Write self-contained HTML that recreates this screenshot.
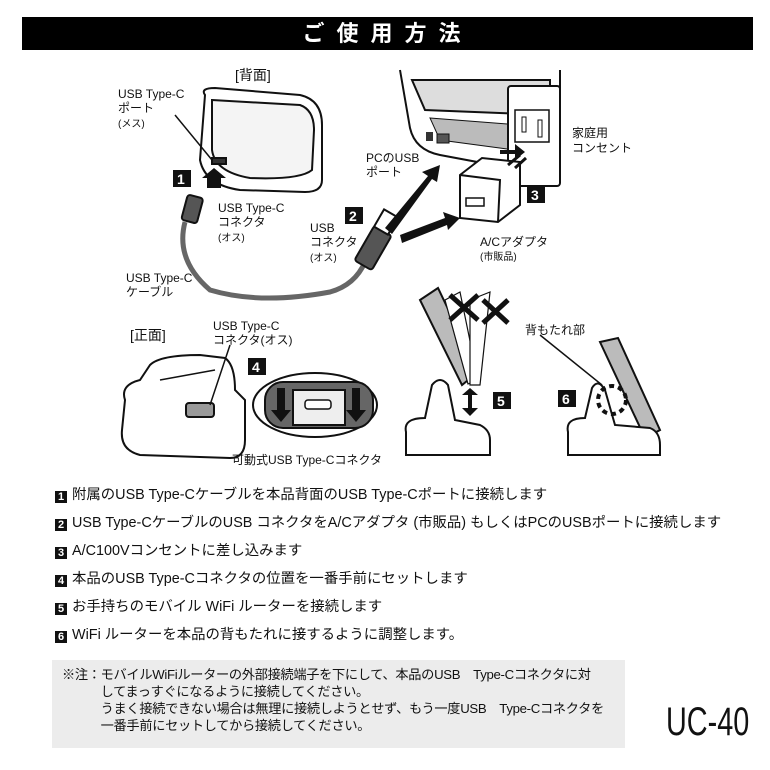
<!DOCTYPE html>
<html><head><meta charset="utf-8"><style>
body{margin:0;background:#fff;width:770px;height:770px;overflow:hidden;position:relative;font-family:"Liberation Sans","Noto Sans CJK JP",sans-serif;color:#111}
.hdr{position:absolute;left:22px;top:17px;width:731px;height:33px;background:#000;color:#fff;text-align:center;font-size:22px;font-weight:bold;line-height:33px;letter-spacing:12px}
.st{position:absolute;left:55px;font-size:14.4px;line-height:16px;white-space:nowrap}
.n{display:inline-block;width:12px;height:12px;background:#111;color:#fff;font-size:11px;font-weight:bold;line-height:12px;text-align:center;margin-right:5px;vertical-align:-1px}
.note{position:absolute;left:52px;top:660px;width:573px;height:88px;background:#ececec;font-size:13.2px;line-height:17px;box-sizing:border-box;padding:6px 0 0 10px;white-space:nowrap;letter-spacing:-0.3px}
.uc{position:absolute;left:666px;top:700px;font-size:40px;white-space:nowrap;transform:scaleX(.72);transform-origin:left;line-height:44px}
svg{position:absolute;left:0;top:0}
svg text{font-family:"Liberation Sans","Noto Sans CJK JP",sans-serif;fill:#111}
</style></head><body>
<div class="hdr">ご使用方法</div>
<svg width="770" height="480" viewBox="0 0 770 480">
<g stroke="#111" stroke-width="2" fill="#fff">
<path d="M205 95 Q200 88 215 88 L300 95 Q322 100 322 125 L322 180 Q322 192 305 192 L240 190 Q205 185 200 160 Z"/>
<path d="M212 100 L300 105 Q314 110 314 130 L312 170 Q300 180 250 178 Q215 172 212 150 Z" fill="#f4f4f4"/>
<rect x="212" y="158" width="14" height="6" fill="#333"/>
<path d="M400 70 L410 128 Q415 150 440 155 L520 170 L560 160 L560 70" fill="#fff"/>
<path d="M412 80 L550 80 L550 115 L425 110 Z" fill="#ddd"/>
<path d="M430 118 L520 125 L515 150 L440 140 Z" fill="#bbb" stroke-width="1"/>
<rect x="426" y="132" width="7" height="9" fill="#333" stroke="none"/>
<rect x="437" y="134" width="12" height="9" fill="#555" stroke-width="1"/>
<rect x="508" y="86" width="52" height="100" rx="3"/>
<rect x="515" y="110" width="34" height="32" fill="#fff" stroke-width="1.5"/>
<rect x="522" y="117" width="4" height="15" fill="#fff" stroke-width="1"/>
<rect x="538" y="120" width="4" height="17" fill="#fff" stroke-width="1"/>
<path d="M460 175 L482 158 L520 162 L520 205 L498 222 L460 218 Z"/>
<path d="M460 175 L500 180 L498 222" fill="none"/>
<rect x="466" y="198" width="18" height="8" fill="#fff" stroke-width="1.5"/>
<path d="M508 165 L520 155 M515 168 L526 158" stroke-width="3"/>
<path d="M185 222 Q175 260 210 290 Q260 305 330 292 Q355 285 365 262" fill="none" stroke="#666" stroke-width="5"/>
<rect x="184" y="196" width="16" height="26" rx="3" fill="#555" transform="rotate(15 192 210)"/>
<rect x="363" y="228" width="20" height="40" rx="3" fill="#555" transform="rotate(30 373 248)"/>
<rect x="378" y="212" width="16" height="20" fill="#fff" transform="rotate(30 386 222)"/>
<path d="M125 400 Q120 385 140 380 L150 365 Q160 355 200 355 L225 358 Q235 365 235 390 L245 400 L245 440 Q245 458 230 458 L140 455 Q120 450 122 430 Z"/>
<path d="M160 380 L215 370" stroke-width="1.5"/>
<rect x="186" y="403" width="28" height="14" rx="3" fill="#999"/>
<ellipse cx="315" cy="405" rx="62" ry="32"/>
<rect x="265" y="382" width="108" height="46" rx="18" fill="#666"/>
<rect x="293" y="390" width="52" height="35" fill="#eee"/>
<rect x="305" y="400" width="26" height="9" rx="3" fill="#fff" stroke-width="1.5"/>
<path d="M420 300 L438 288 L478 372 L462 385 Z" fill="#bbb"/>
<path d="M445 300 L460 292 L478 380 L468 384 Z" fill="#fff" stroke-width="1.2"/>
<path d="M470 300 L490 292 L480 385 L470 385 Z" fill="#fff" stroke-width="1.2"/>
<path d="M406 432 Q403 418 425 418 L432 385 Q440 375 448 385 L455 420 L480 425 Q490 430 490 440 L490 455 L406 455 Z"/>
<path d="M600 342 L618 338 L660 430 L645 438 Z" fill="#bbb"/>
<path d="M568 432 Q565 418 585 418 L592 388 Q598 378 605 390 L615 425 L650 428 Q660 432 660 445 L660 455 L568 455 Z"/>
</g>
<g stroke="#111" stroke-width="5">
<path d="M450 295 L478 320 M478 295 L450 320"/>
<path d="M483 300 L508 323 M508 300 L483 323"/>
</g>
<path d="M540 335 L602 385" stroke="#111" stroke-width="1.5"/>
<path d="M175 115 L212 160" stroke="#111" stroke-width="1.5"/>
<path d="M230 345 L210 405" stroke="#111" stroke-width="1.5"/>
<circle cx="612" cy="400" r="14" fill="none" stroke="#111" stroke-width="4" stroke-dasharray="5 4"/>
<g fill="#111">
<path d="M207 188 L207 178 L202 178 L214 168 L226 178 L221 178 L221 188 Z"/>
<path d="M385 228 L428 176 L422 172 L440 165 L437 182 L432 179 L392 234 Z"/>
<path d="M400 235 L445 218 L443 212 L460 218 L448 230 L447 225 L402 243 Z"/>
<path d="M500 150 L515 150 L515 144 L525 152 L515 160 L515 154 L500 154 Z"/>
<path d="M462 395 L470 388 L478 395 L472 395 L472 408 L478 408 L470 416 L462 408 L468 408 L468 395 Z"/>
<path d="M277 388 h8 v22 h6 l-10 12 l-10 -12 h6 Z"/>
<path d="M352 388 h8 v22 h6 l-10 12 l-10 -12 h6 Z"/>
</g>
<g>
<rect x="173" y="170" width="18" height="17" fill="#111"/><text x="177" y="184" font-size="14" font-weight="bold" style="fill:#fff">1</text>
<rect x="345" y="207" width="18" height="17" fill="#111"/><text x="349" y="221" font-size="14" font-weight="bold" style="fill:#fff">2</text>
<rect x="527" y="186" width="18" height="17" fill="#111"/><text x="531" y="200" font-size="14" font-weight="bold" style="fill:#fff">3</text>
<rect x="248" y="358" width="18" height="17" fill="#111"/><text x="252" y="372" font-size="14" font-weight="bold" style="fill:#fff">4</text>
<rect x="493" y="392" width="18" height="17" fill="#111"/><text x="497" y="406" font-size="14" font-weight="bold" style="fill:#fff">5</text>
<rect x="558" y="390" width="18" height="17" fill="#111"/><text x="562" y="404" font-size="14" font-weight="bold" style="fill:#fff">6</text>
</g>
<g font-size="12">
<text x="235" y="80" font-size="14">[背面]</text>
<text x="118" y="98">USB Type-C</text><text x="118" y="112">ポート</text><text x="118" y="127" font-size="10">(メス)</text>
<text x="218" y="212">USB Type-C</text><text x="218" y="226">コネクタ</text><text x="218" y="241" font-size="10">(オス)</text>
<text x="310" y="232">USB</text><text x="310" y="246">コネクタ</text><text x="310" y="261" font-size="10">(オス)</text>
<text x="126" y="282">USB Type-C</text><text x="126" y="296">ケーブル</text>
<text x="366" y="162">PCのUSB</text><text x="366" y="176">ポート</text>
<text x="572" y="137">家庭用</text><text x="572" y="152">コンセント</text>
<text x="480" y="246">A/Cアダプタ</text><text x="480" y="260" font-size="10">(市販品)</text>
<text x="130" y="340" font-size="14">[正面]</text>
<text x="213" y="330">USB Type-C</text><text x="213" y="344">コネクタ(オス)</text>
<text x="232" y="464">可動式USB Type-Cコネクタ</text>
<text x="525" y="334">背もたれ部</text>
</g>
</svg>
<div class="st" style="top:487px"><span class="n">1</span>附属のUSB Type-Cケーブルを本品背面のUSB Type-Cポートに接続します</div>
<div class="st" style="top:515px"><span class="n">2</span>USB Type-CケーブルのUSB コネクタをA/Cアダプタ (市販品) もしくはPCのUSBポートに接続します</div>
<div class="st" style="top:543px"><span class="n">3</span>A/C100Vコンセントに差し込みます</div>
<div class="st" style="top:571px"><span class="n">4</span>本品のUSB Type-Cコネクタの位置を一番手前にセットします</div>
<div class="st" style="top:599px"><span class="n">5</span>お手持ちのモバイル WiFi ルーターを接続します</div>
<div class="st" style="top:627px"><span class="n">6</span>WiFi ルーターを本品の背もたれに接するように調整します。</div>
<div class="note">※注：モバイルWiFiルーターの外部接続端子を下にして、本品のUSB　Type-Cコネクタに対<br>　　　してまっすぐになるように接続してください。<br>　　　うまく接続できない場合は無理に接続しようとせず、もう一度USB　Type-Cコネクタを<br>　　　一番手前にセットしてから接続してください。</div>
<div class="uc">UC-40</div>
</body></html>
